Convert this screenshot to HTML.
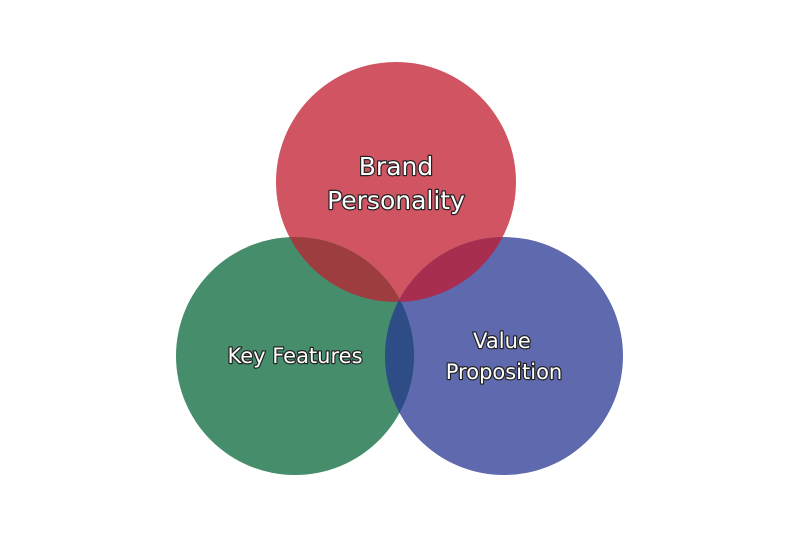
<!DOCTYPE html>
<html><head><style>
html,body{margin:0;padding:0;background:#fff;width:800px;height:540px;overflow:hidden}
text{font-family:"DejaVu Sans","Liberation Sans",sans-serif;fill:#fff;stroke:#222;stroke-width:2.4px;paint-order:stroke;stroke-linejoin:round;text-anchor:middle}
</style></head><body>
<svg width="800" height="540" viewBox="0 0 800 540">
<defs>
<clipPath id="cr"><circle cx="396" cy="182" r="120"/></clipPath>
<clipPath id="cg"><circle cx="295" cy="356" r="119"/></clipPath>
</defs>
<circle cx="396" cy="182" r="120" fill="#D05461"/>
<circle cx="295" cy="356" r="119" fill="#468D6C"/>
<circle cx="504" cy="356" r="119" fill="#5E69AE"/>
<circle cx="295" cy="356" r="119" fill="#9E3D40" clip-path="url(#cr)"/>
<circle cx="504" cy="356" r="119" fill="#A82E50" clip-path="url(#cr)"/>
<circle cx="504" cy="356" r="119" fill="#2E4D87" clip-path="url(#cg)"/>
<text x="396" y="175" font-size="25">Brand</text>
<text x="396" y="209" font-size="25">Personality</text>
<text x="295" y="363" font-size="21">Key Features</text>
<text x="502" y="348" font-size="21">Value</text>
<text x="504" y="379" font-size="21">Proposition</text>
</svg>
</body></html>
